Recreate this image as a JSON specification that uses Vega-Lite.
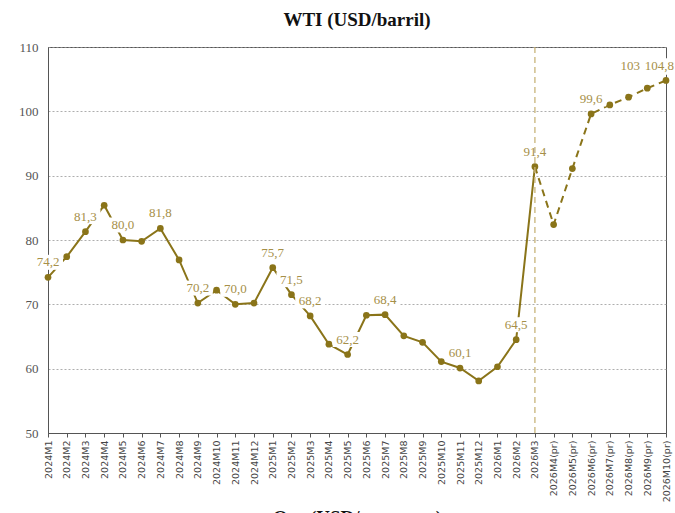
{
  "$schema": "https://vega.github.io/schema/vega-lite/v6.json",
  "width": 618,
  "height": 386,
  "padding": {"left": 18, "top": 11, "right": 10, "bottom": 0},
  "background": "white",
  "title": {
    "text": "WTI (USD/barril)",
    "font": "Liberation Serif",
    "fontSize": 19,
    "fontWeight": "bold",
    "color": "#111111",
    "anchor": "middle",
    "offset": 11
  },
  "config": {
    "view": {"stroke": "#555555", "strokeWidth": 1},
    "font": "Liberation Serif"
  },
  "data": {
    "values": [
      {"n": 1, "periodo": "2024M1", "valor": 74.2, "etiqueta": "74,2"},
      {"n": 2, "periodo": "2024M2", "valor": 77.4, "etiqueta": ""},
      {"n": 3, "periodo": "2024M3", "valor": 81.3, "etiqueta": "81,3"},
      {"n": 4, "periodo": "2024M4", "valor": 85.4, "etiqueta": ""},
      {"n": 5, "periodo": "2024M5", "valor": 80.0, "etiqueta": "80,0"},
      {"n": 6, "periodo": "2024M6", "valor": 79.8, "etiqueta": ""},
      {"n": 7, "periodo": "2024M7", "valor": 81.8, "etiqueta": "81,8"},
      {"n": 8, "periodo": "2024M8", "valor": 76.9, "etiqueta": ""},
      {"n": 9, "periodo": "2024M9", "valor": 70.2, "etiqueta": "70,2"},
      {"n": 10, "periodo": "2024M10", "valor": 72.2, "etiqueta": ""},
      {"n": 11, "periodo": "2024M11", "valor": 70.0, "etiqueta": "70,0"},
      {"n": 12, "periodo": "2024M12", "valor": 70.2, "etiqueta": ""},
      {"n": 13, "periodo": "2025M1", "valor": 75.7, "etiqueta": "75,7"},
      {"n": 14, "periodo": "2025M2", "valor": 71.5, "etiqueta": "71,5"},
      {"n": 15, "periodo": "2025M3", "valor": 68.2, "etiqueta": "68,2"},
      {"n": 16, "periodo": "2025M4", "valor": 63.8, "etiqueta": ""},
      {"n": 17, "periodo": "2025M5", "valor": 62.2, "etiqueta": "62,2"},
      {"n": 18, "periodo": "2025M6", "valor": 68.3, "etiqueta": ""},
      {"n": 19, "periodo": "2025M7", "valor": 68.4, "etiqueta": "68,4"},
      {"n": 20, "periodo": "2025M8", "valor": 65.1, "etiqueta": ""},
      {"n": 21, "periodo": "2025M9", "valor": 64.1, "etiqueta": ""},
      {"n": 22, "periodo": "2025M10", "valor": 61.1, "etiqueta": ""},
      {"n": 23, "periodo": "2025M11", "valor": 60.1, "etiqueta": "60,1"},
      {"n": 24, "periodo": "2025M12", "valor": 58.1, "etiqueta": ""},
      {"n": 25, "periodo": "2026M1", "valor": 60.3, "etiqueta": ""},
      {"n": 26, "periodo": "2026M2", "valor": 64.5, "etiqueta": "64,5"},
      {"n": 27, "periodo": "2026M3", "valor": 91.4, "etiqueta": "91,4"},
      {"n": 28, "periodo": "2026M4(pr)", "valor": 82.4, "etiqueta": ""},
      {"n": 29, "periodo": "2026M5(pr)", "valor": 91.1, "etiqueta": ""},
      {"n": 30, "periodo": "2026M6(pr)", "valor": 99.6, "etiqueta": "99,6"},
      {"n": 31, "periodo": "2026M7(pr)", "valor": 101.0, "etiqueta": ""},
      {"n": 32, "periodo": "2026M8(pr)", "valor": 102.2, "etiqueta": ""},
      {"n": 33, "periodo": "2026M9(pr)", "valor": 103.6, "etiqueta": "103"},
      {"n": 34, "periodo": "2026M10(pr)", "valor": 104.8, "etiqueta": "104,8"}
    ]
  },
  "encoding": {
    "x": {
      "field": "periodo",
      "type": "ordinal",
      "sort": {"field": "n"},
      "scale": {"type": "point", "padding": 0},
      "axis": {
        "title": "Oro (USD/onza troy)",
        "titleFont": "Liberation Serif",
        "titleFontSize": 19,
        "titleFontWeight": "bold",
        "titleColor": "#111111",
        "titlePadding": 7,
        "labelAngle": -90,
        "labelFont": "DejaVu Sans",
        "labelFontSize": 9.5,
        "labelColor": "#444444",
        "labelPadding": 3,
        "tickSize": 4,
        "tickColor": "#555555",
        "domainColor": "#555555",
        "grid": false
      }
    },
    "y": {
      "field": "valor",
      "type": "quantitative",
      "scale": {"domain": [50, 110], "nice": false, "zero": false},
      "axis": {
        "title": null,
        "values": [50, 60, 70, 80, 90, 100, 110],
        "labelFont": "Liberation Serif",
        "labelFontSize": 13,
        "labelColor": "#555555",
        "labelPadding": 10,
        "ticks": false,
        "domainColor": "#555555",
        "grid": true,
        "gridColor": "#999999",
        "gridDash": [2, 2],
        "gridWidth": 0.8
      }
    }
  },
  "layer": [
    {
      "transform": [{"filter": "datum.n <= 27"}],
      "mark": {"type": "line", "color": "#8A7419", "strokeWidth": 2}
    },
    {
      "transform": [{"filter": "datum.n >= 27"}],
      "mark": {"type": "line", "color": "#8A7419", "strokeWidth": 2, "strokeDash": [7, 5]}
    },
    {
      "mark": {"type": "point", "filled": true, "color": "#8A7419", "size": 45, "opacity": 1}
    },
    {
      "transform": [{"filter": "datum.etiqueta != '' && datum.n < 33 && datum.n != 27"}],
      "mark": {"type": "point", "shape": "M-1,-0.5H1V0.5H-1Z", "size": 900, "filled": true, "color": "white", "strokeWidth": 0, "opacity": 1, "yOffset": -15}
    },
    {
      "transform": [{"filter": "datum.n == 33"}],
      "mark": {"type": "point", "shape": "M-1,-0.7H1V0.7H-1Z", "size": 484, "filled": true, "color": "white", "strokeWidth": 0, "opacity": 1, "yOffset": -22, "xOffset": -17}
    },
    {
      "transform": [{"filter": "datum.n == 34"}],
      "mark": {"type": "point", "shape": "M-1,-0.5H1V0.5H-1Z", "size": 1100, "filled": true, "color": "white", "strokeWidth": 0, "opacity": 1, "yOffset": -14, "xOffset": -8}
    },
    {
      "transform": [{"filter": "datum.periodo == '2026M3'"}],
      "mark": {"type": "rule", "color": "#C8B47A", "strokeWidth": 1.3, "strokeDash": [6, 4]},
      "encoding": {"y": null}
    },
    {
      "transform": [{"filter": "datum.etiqueta != '' && datum.n < 33"}],
      "mark": {"type": "text", "font": "Liberation Serif", "fontSize": 13, "baseline": "bottom", "dy": -8, "color": "#A68F48"},
      "encoding": {"text": {"field": "etiqueta"}}
    },
    {
      "transform": [{"filter": "datum.n == 33"}],
      "mark": {"type": "text", "font": "Liberation Serif", "fontSize": 13, "baseline": "bottom", "dy": -15, "dx": -17, "color": "#A68F48"},
      "encoding": {"text": {"field": "etiqueta"}}
    },
    {
      "transform": [{"filter": "datum.n == 34"}],
      "mark": {"type": "text", "font": "Liberation Serif", "fontSize": 13, "baseline": "bottom", "dy": -7, "dx": 8, "align": "right", "color": "#A68F48"},
      "encoding": {"text": {"field": "etiqueta"}}
    }
  ]
}
